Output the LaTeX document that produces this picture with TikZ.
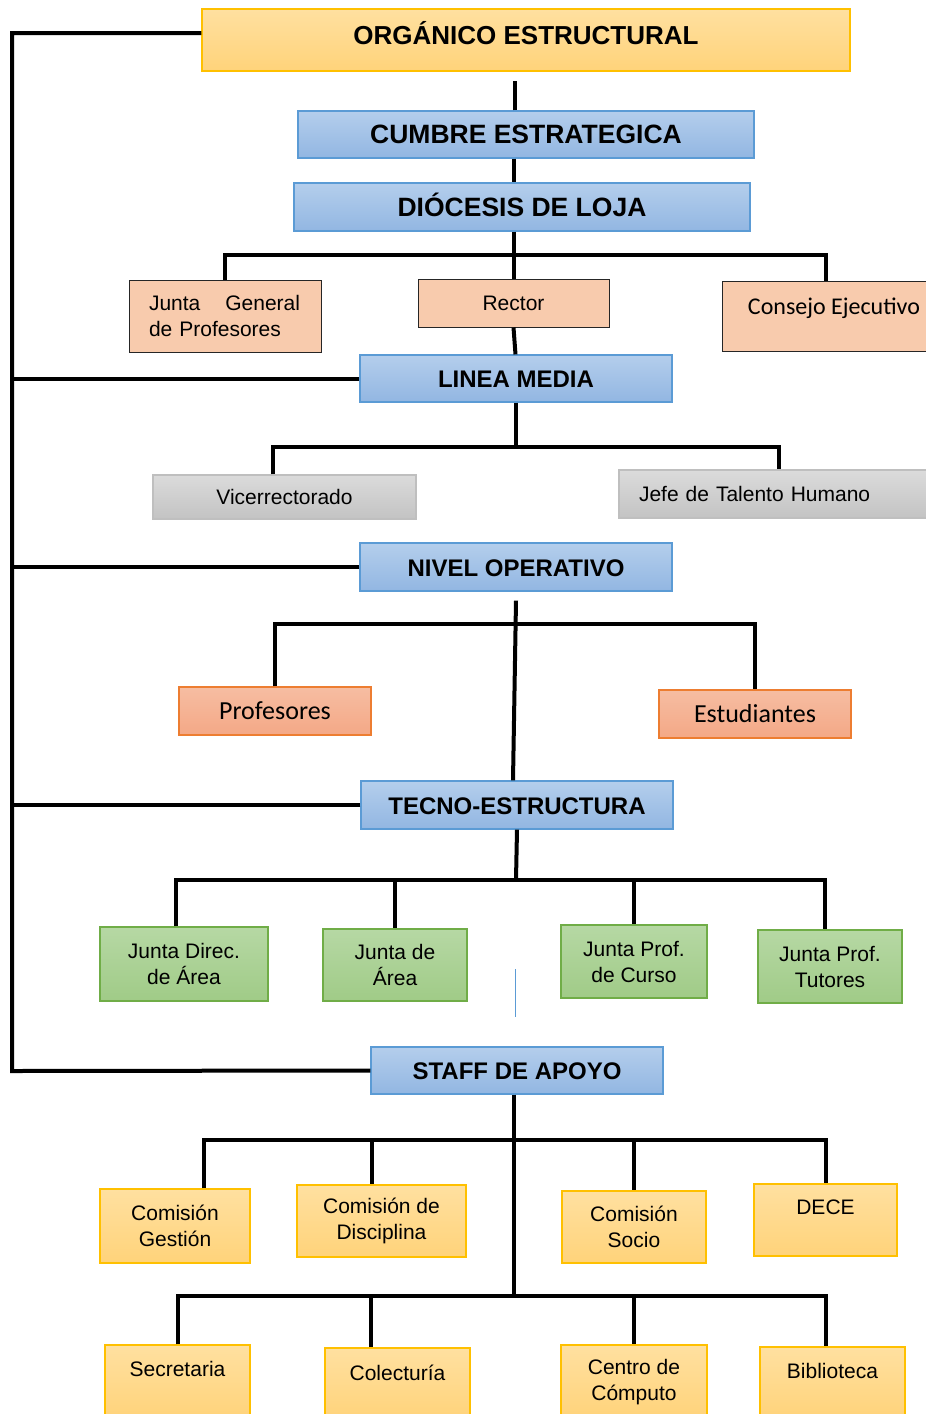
\documentclass[tikz,border=0pt]{standalone}
\usepackage{fontspec}
\setmainfont{Liberation Sans}
\newfontfamily\calibri{Carlito}
\usepackage{tikz}
\usetikzlibrary{positioning}

\definecolor{bluetop}{HTML}{B4CEEC}
\definecolor{bluebot}{HTML}{92B6E2}
\definecolor{blueedge}{HTML}{5B9BD5}
\definecolor{goldtop}{HTML}{FFE0A0}
\definecolor{goldbot}{HTML}{FFD37A}
\definecolor{goldedge}{HTML}{FFC000}
\definecolor{peach}{HTML}{F8CBAD}
\definecolor{salmtop}{HTML}{F6BDA2}
\definecolor{salmbot}{HTML}{F4A886}
\definecolor{salmedge}{HTML}{ED7D31}
\definecolor{greentop}{HTML}{B6D8A4}
\definecolor{greenbot}{HTML}{A0CB87}
\definecolor{greenedge}{HTML}{70AD47}
\definecolor{greytop}{HTML}{DBDBDB}
\definecolor{greybot}{HTML}{C3C3C3}
\definecolor{greyedge}{HTML}{BFBFBF}

\tikzstyle{conn}=[line width=4pt]
\tikzstyle{box}=[rectangle, draw, inner sep=0pt, align=center, line width=1.2pt,
  font=\fontsize{21pt}{26pt}\selectfont]
\tikzstyle{headbox}=[box, top color=bluetop, bottom color=bluebot, draw=blueedge,
  font=\bfseries\fontsize{24pt}{28pt}\selectfont, text height=23pt, text depth=5pt]
\tikzstyle{goldbox}=[box, top color=goldtop, bottom color=goldbot, draw=goldedge]
\tikzstyle{peachbox}=[box, fill=peach, draw=black!85, line width=1pt]
\tikzstyle{salmbox}=[box, top color=salmtop, bottom color=salmbot, draw=salmedge,
  font=\calibri\fontsize{26pt}{30pt}\selectfont]
\tikzstyle{greenbox}=[box, top color=greentop, bottom color=greenbot, draw=greenedge]
\tikzstyle{greybox}=[box, top color=greytop, bottom color=greybot, draw=greyedge]
\tikzset{raised/.style={text height=20pt, text depth=#1}}

\begin{document}
\begin{tikzpicture}[x=1pt,y=-1pt]
  \useasboundingbox (0,0) rectangle (926,1414);
  \clip (0,0) rectangle (926,1414);

  % upper part
  \node [goldbox, minimum width=648, minimum height=62,
    font=\bfseries\fontsize{26pt}{30pt}\selectfont, text height=23pt, text depth=15pt]
    (organico) at (526,40) {ORGÁNICO ESTRUCTURAL};
  \node [headbox, minimum width=456, minimum height=47,
    font=\bfseries\fontsize{26.5pt}{30pt}\selectfont] (cumbre) at (526,134.5) {CUMBRE ESTRATEGICA};
  \node [headbox, minimum width=456, minimum height=48,
    font=\bfseries\fontsize{26.5pt}{30pt}\selectfont] (diocesis) at (522,207) {DIÓCESIS DE LOJA};
  \node [peachbox, minimum width=192, minimum height=72, text width=152pt, align=left]
    (juntagen) at (225,316) {Junta\hspace{25pt}General\\de Profesores};
  \node [peachbox, minimum width=191, minimum height=48, raised=5pt] (rector) at (513.5,303) {Rector};
  \node [peachbox, minimum width=224, minimum height=70, raised=23pt,
    font=\calibri\fontsize{24pt}{28pt}\selectfont] (consejo) at (834,316) {Consejo Ejecutivo};

  % linea media
  \node [headbox, minimum width=312, minimum height=47] (linea) at (516,378.5) {LINEA MEDIA};
  \node [greybox, minimum width=263, minimum height=44, raised=5pt] (vice) at (284.5,497) {Vicerrectorado};
  \node [greybox, minimum width=330, minimum height=48, raised=5pt, text width=290pt, align=left]
    (jefe) at (784,494) {Jefe de Talento Humano};

  % nivel operativo
  \node [headbox, minimum width=312, minimum height=48] (nivel) at (516,567) {NIVEL OPERATIVO};
  \node [salmbox, minimum width=192, minimum height=48] (profes) at (275,711) {Profesores};
  \node [salmbox, minimum width=192, minimum height=48] (estud) at (755,714) {Estudiantes};

  % tecno-estructura
  \node [headbox, minimum width=312, minimum height=48] (tecno) at (517,805) {TECNO-ESTRUCTURA};
  \node [greenbox, minimum width=168, minimum height=74] (jdirec) at (184,964) {Junta Direc.\\de Área};
  \node [greenbox, minimum width=144, minimum height=72] (jarea) at (395,965) {Junta de\\Área};
  \node [greenbox, minimum width=146, minimum height=73] (jcurso) at (634,961.5) {Junta Prof.\\de Curso};
  \node [greenbox, minimum width=144, minimum height=73] (jtutor) at (830,966.5) {Junta Prof.\\Tutores};

  % staff de apoyo
  \node [headbox, minimum width=292, minimum height=47] (staff) at (517,1070.5) {STAFF DE APOYO};
  \node [goldbox, minimum width=150, minimum height=74] (cgest) at (175,1226) {Comisión\\Gestión};
  \node [goldbox, minimum width=169, minimum height=72] (cdisc) at (381.5,1221) {Comisión de\\Disciplina};
  \node [goldbox, minimum width=144, minimum height=72] (csocio) at (634,1227) {Comisión\\Socio};
  \node [goldbox, minimum width=143, minimum height=72, raised=31pt] (dece) at (825.5,1220) {DECE};
  \node [goldbox, minimum width=145, minimum height=74, raised=31pt] (secre) at (177.5,1382) {Secretaria};
  \node [goldbox, minimum width=145, minimum height=72, raised=27pt] (colect) at (397.5,1384) {Colecturía};
  \node [goldbox, minimum width=146, minimum height=74] (centro) at (634,1382) {Centro de\\Cómputo};
  \node [goldbox, minimum width=145, minimum height=72, raised=29pt] (biblio) at (832.5,1383) {Biblioteca};

  % left spine
  \coordinate (spinetop) at (12,33);
  \coordinate (spinebot) at (12,1071);
  \draw [conn] (spinetop -| organico.west) -- (spinetop) -- (spinebot) -- (staff.west);
  \draw [conn] (linea.west) -- (linea.west -| spinetop);
  \draw [conn] (nivel.west) -- (nivel.west -| spinetop);
  \draw [conn] (tecno.west) -- (tecno.west -| spinetop);

  % top trunk
  \coordinate (bar1) at (513.5,255);
  \draw [conn] ([xshift=-11pt]cumbre.north) -- ++(0,-29);
  \draw [conn] (cumbre.south -| rector) -- (diocesis.north -| rector);
  \draw [conn] (diocesis.south -| rector) -- (rector.north);
  \draw [conn] (juntagen.north) |- (bar1) -| ([xshift=-8pt]consejo.north);
  \draw [conn] (rector.south) -- ([xshift=2pt]linea.north -| rector);

  % linea media branches
  \coordinate (bar2) at (516,447);
  \draw [conn] (linea.south) -- (bar2);
  \draw [conn] ([xshift=-12pt]vice.north) |- (bar2) -| ([xshift=-5pt]jefe.north);

  % nivel operativo branches
  \coordinate (bar3) at (516,624);
  \draw [conn] ([yshift=-9pt]nivel.south) -- ([xshift=-4pt]tecno.north);
  \draw [conn] (profes.north) |- (bar3) -| (estud.north);

  % tecno-estructura branches
  \coordinate (bar4) at (516,880);
  \draw [conn] (tecno.south) -- (bar4);
  \draw [conn] ([xshift=-8pt]jdirec.north) |- (bar4) -| ([xshift=-5pt]jtutor.north);
  \draw [conn] (bar4 -| jarea.north) -- (jarea.north);
  \draw [conn] (bar4 -| jcurso.north) -- (jcurso.north);
  \draw [blueedge, line width=1pt] (515,969) -- (515,1017);

  % staff de apoyo branches
  \coordinate (bar5) at (514,1140);
  \coordinate (bar6) at (514,1296);
  \draw [conn] (staff.south -| bar5) -- (bar6);
  \draw [conn] ([xshift=29pt]cgest.north) |- (bar5) -| (dece.north);
  \draw [conn] (bar5 -| cdisc.north) ++(-10,0) -- ([xshift=-10pt]cdisc.north);
  \draw [conn] (bar5 -| csocio.north) -- (csocio.north);
  \draw [conn] (secre.north) |- (bar6) -| ([xshift=-7pt]biblio.north);
  \draw [conn] (bar6 -| colect.north) ++(-27,0) -- ([xshift=-27pt]colect.north);
  \draw [conn] (bar6 -| centro.north) -- (centro.north);
\end{tikzpicture}
\end{document}
